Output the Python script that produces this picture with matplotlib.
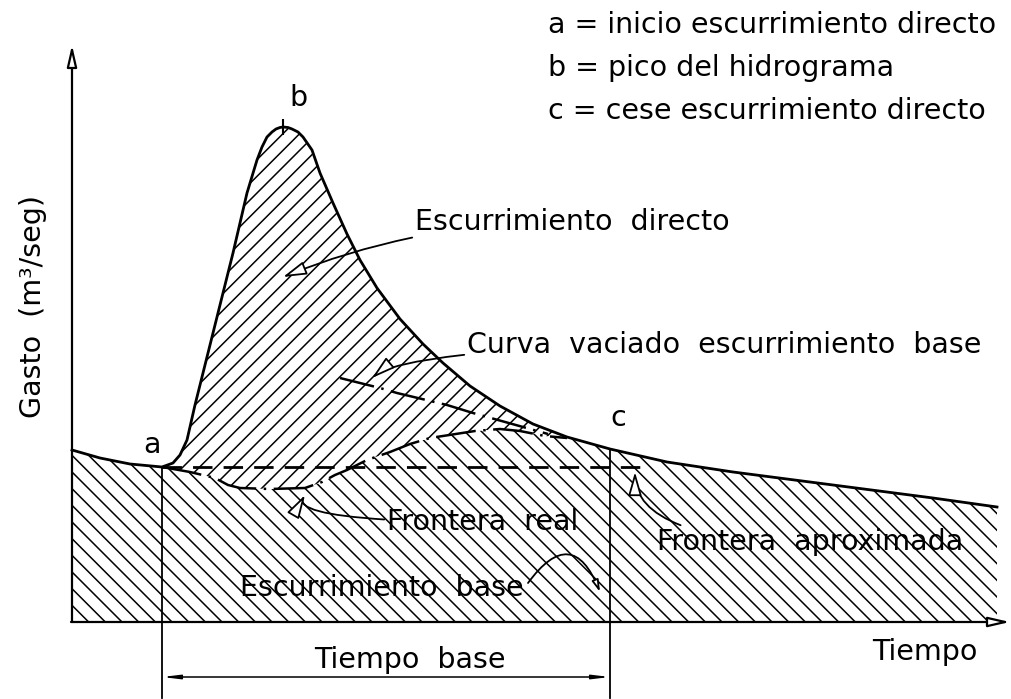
import matplotlib
matplotlib.use("Agg")
import matplotlib.pyplot as plt
import numpy as np

# hidrograma (tiempo, gasto) en unidades arbitrarias
t_hidro = [0.0, 2.8, 5.8, 9.0, 10.1, 10.8, 11.5, 12.3, 13.3, 14.3, 15.1, 16.1, 17.5,
           18.5, 19.0, 19.5, 20.0, 20.4, 20.8, 21.1, 21.6, 22.0, 22.6, 23.1, 24.0,
           24.8, 26.1, 27.5, 28.8, 30.5, 32.8, 35.1, 37.1, 39.8, 42.8, 46.1, 49.5,
           53.8, 59.5, 66.1, 76.1, 86.1, 92.5]
q_hidro = [17.2, 16.4, 15.8, 15.5, 15.9, 16.7, 18.2, 21.7, 25.7, 29.7, 32.9, 36.9, 42.9,
           46.2, 47.5, 48.5, 49.0, 49.3, 49.45, 49.5, 49.45, 49.3, 49.0, 48.5, 47.2,
           44.9, 41.9, 38.8, 36.2, 33.4, 30.3, 27.8, 25.9, 23.6, 21.6, 19.8, 18.5,
           17.3, 16.0, 15.0, 13.7, 12.4, 11.5]

# frontera real entre escurrimiento directo y base
t_real = [9.0, 11.8, 14.3, 15.6, 16.8, 19.8, 23.3, 25.0, 26.3, 27.5, 29.5, 31.8,
          33.8, 35.8, 40.3, 42.8, 44.8, 47.3, 49.5]
q_real = [15.5, 15.0, 14.4, 13.7, 13.4, 13.3, 13.4, 14.0, 14.7, 15.2, 16.2, 17.0,
          17.8, 18.4, 19.1, 19.3, 19.1, 18.6, 18.4]

# curva de vaciado del escurrimiento base
t_vaciado = [26.8, 30.8, 32.5, 37.5, 40.1, 45.1, 47.6]
q_vaciado = [24.4, 23.4, 22.9, 21.7, 20.9, 19.5, 18.8]

t_a, t_b, t_c = 9.0, 21.1, 53.8
t_aprox_fin = 57.6

leyenda = ["a = inicio escurrimiento directo",
           "b = pico del hidrograma",
           "c = cese escurrimiento directo"]

plt.rcParams['hatch.linewidth'] = 1.1
plt.rcParams['font.family'] = 'DejaVu Sans'

fig = plt.figure(figsize=(10.11, 6.99), dpi=100)
ax = fig.add_axes([0, 0, 1, 1])
ax.set_xlim(-7.2, 93.9)
ax.set_ylim(-7.7, 62.2)
ax.axis('off')

th = np.array(t_hidro)
qh = np.array(q_hidro)
tr = np.array(t_real)
qr = np.array(q_real)
q_a = np.interp(t_a, th, qh)
q_c = np.interp(t_c, th, qh)

# zonas rayadas
antes = th <= t_a
despues = th >= tr[-1]
tb = np.concatenate([[th[0]], th[antes], tr, th[despues], [th[-1]]])
qb = np.concatenate([[0], qh[antes], qr, qh[despues], [0]])
ax.fill(tb, qb, facecolor='none', edgecolor='black', hatch='\\\\', linewidth=0)

medio = (th > t_a) & (th < tr[-1])
td = np.concatenate([[t_a], th[medio], tr[::-1]])
qd = np.concatenate([[q_a], qh[medio], qr[::-1]])
ax.fill(td, qd, facecolor='white', edgecolor='black', hatch='//', linewidth=0)

# curvas
ax.plot(th, qh, color='black', lw=2.0, solid_joinstyle='round')
ax.plot(tr, qr, color='black', lw=1.8, linestyle=(0, (16, 3, 1, 3)))
ax.plot(t_vaciado, q_vaciado, color='black', lw=1.8, linestyle=(0, (14, 3, 1, 3)))
ax.plot([t_a, t_aprox_fin], [q_a, q_a], color='black', lw=2.0, linestyle=(0, (7, 4)))
ax.plot([t_b], [np.interp(t_b, th, qh)], marker='|', color='black', ms=12, mew=1.5)

# ejes con flecha
ax.annotate('', xy=(0, 57.7), xytext=(0, 0),
            arrowprops=dict(arrowstyle='-|>,head_length=1.3,head_width=0.3',
                            fc='white', ec='black', lw=1.6, shrinkA=0, shrinkB=0))
ax.annotate('', xy=(93.8, 0), xytext=(-0.1, 0),
            arrowprops=dict(arrowstyle='-|>,head_length=1.3,head_width=0.3',
                            fc='white', ec='black', lw=1.6, shrinkA=0, shrinkB=0))

# lineas verticales a y c, tiempo base
ax.plot([t_a, t_a], [q_a, -7.6], color='black', lw=1.3)
ax.plot([t_c, t_c], [q_c, -7.6], color='black', lw=1.3)
ax.annotate('', xy=(t_a, -5.5), xytext=(t_c, -5.5),
            arrowprops=dict(arrowstyle='<|-|>,head_length=1.0,head_width=0.12',
                            fc='black', ec='black', lw=1.1, shrinkA=0, shrinkB=0))

fs = 20.5
ax.text(8.0, 17.7, 'a', fontsize=fs, ha='center', va='center')
ax.text(22.6, 52.4, 'b', fontsize=fs, ha='center', va='center')
ax.text(54.6, 20.4, 'c', fontsize=fs, ha='center', va='center')

for i, linea in enumerate(leyenda):
    ax.text(47.6, 58.9 - 4.3 * i, linea, fontsize=fs, ha='left', va='baseline')

ax.text(-3.9, 31.6, 'Gasto  (m³/seg)', fontsize=fs, rotation=90, ha='center', va='center')
ax.text(80.0, -3.0, 'Tiempo', fontsize=fs, ha='left', va='center')
ax.text(33.8, -3.8, 'Tiempo  base', fontsize=fs, ha='center', va='center')

flecha = dict(arrowstyle='-|>,head_length=0.7,head_width=0.2', fc='white', ec='black',
              lw=1.3, shrinkA=0, shrinkB=0)
ax.annotate('Escurrimiento  directo', xy=(21.1, 34.5), xytext=(34.3, 40.0),
            fontsize=fs, va='center', ha='left',
            arrowprops=dict(flecha, connectionstyle='arc3,rad=0.1'))
ax.annotate('Curva  vaciado  escurrimiento  base', xy=(30.0, 24.4), xytext=(39.5, 27.7),
            fontsize=fs, va='center', ha='left',
            arrowprops=dict(flecha, connectionstyle='angle3,angleA=180,angleB=40'))
ax.annotate('Frontera  real', xy=(23.3, 12.7), xytext=(31.5, 10.0),
            fontsize=fs, va='center', ha='left',
            arrowprops=dict(flecha, connectionstyle='angle3,angleA=180,angleB=60'))
ax.annotate('Frontera  aproximada', xy=(56.3, 15.0), xytext=(58.5, 8.0),
            fontsize=fs, va='center', ha='left',
            arrowprops=dict(flecha, connectionstyle='angle3,angleA=180,angleB=90'))
ax.text(16.8, 3.4, 'Escurrimiento  base', fontsize=fs, va='center', ha='left')
ax.annotate('', xy=(52.8, 3.0), xytext=(45.6, 3.9),
            arrowprops=dict(flecha, connectionstyle='arc3,rad=-0.9'))

fig.savefig('out.png', dpi=100)
